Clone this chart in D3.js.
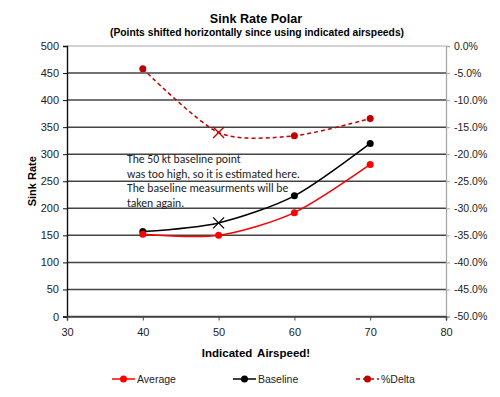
<!DOCTYPE html>
<html><head><meta charset="utf-8">
<script src="https://cdn.jsdelivr.net/npm/d3@7"></script>
<style>body{margin:0;background:#fff}svg{display:block}</style>
</head><body>
<script>
const speeds = [40, 50, 60, 70];
const average = [152, 150, 192, 281];
const baseline = [157, 173, 223, 320];
const pctDelta = [-4.2, -16.0, -16.6, -13.4];
const estimatedIndex = 1; // 50 kt point drawn as X for Baseline & %Delta
const leftTicks = [0, 50, 100, 150, 200, 250, 300, 350, 400, 450, 500];
const rightTicks = [0, -5, -10, -15, -20, -25, -30, -35, -40, -45, -50];
const xTicks = [30, 40, 50, 60, 70, 80];
const noteLines = ["The 50 kt baseline point", "was too high, so it is estimated here.", "The baseline measurments will be", "taken again."];

const W = 500, H = 397;
const svg = d3.select("body").append("svg").attr("width", W).attr("height", H);
const x = d3.scaleLinear().domain([30, 80]).range([67, 446]);
const y = d3.scaleLinear().domain([0, 500]).range([316.5, 46]);
const y2 = d3.scaleLinear().domain([-50, 0]).range([316.5, 46]);
const font = "Liberation Sans, Arial, sans-serif";

// gridlines
svg.append("g").selectAll("line").data(leftTicks).join("line")
  .attr("x1", x(30)).attr("x2", x(80))
  .attr("y1", d => y(d)).attr("y2", d => y(d))
  .attr("stroke", d => d === 500 ? "#a6a6a6" : "#444").attr("stroke-width", d => d === 500 ? 1 : 1.5);

// left axis
const ga = svg.append("g").attr("transform", `translate(${x(30)},0)`)
  .call(d3.axisLeft(y).tickValues(leftTicks).tickSize(4).tickPadding(4));
ga.select(".domain").attr("stroke", "#111").attr("stroke-width", 1.4);
ga.selectAll(".tick line").attr("stroke", "#111");
ga.selectAll("text").attr("font-family", font).attr("font-size", 11).attr("fill", "#222");

// right axis
const gr = svg.append("g").attr("transform", `translate(${x(80)},0)`)
  .call(d3.axisRight(y2).tickValues(rightTicks).tickSize(4).tickPadding(4).tickFormat(d => d.toFixed(1) + "%"));
gr.select(".domain").attr("stroke", "#a6a6a6").attr("stroke-width", 1.3);
gr.selectAll(".tick line").attr("stroke", "#a6a6a6");
gr.selectAll("text").attr("font-family", font).attr("font-size", 10.5).attr("fill", "#222");

// bottom axis
const gb = svg.append("g").attr("transform", `translate(0,${y(0)})`)
  .call(d3.axisBottom(x).tickValues(xTicks).tickSize(4).tickPadding(8));
gb.select(".domain").attr("stroke", "#444").attr("stroke-width", 1.5);
gb.selectAll(".tick line").attr("stroke", "#444");
gb.selectAll("text").attr("font-family", font).attr("font-size", 11).attr("fill", "#222");

// titles
svg.append("text").attr("x", 256).attr("y", 23).attr("text-anchor", "middle")
  .attr("font-family", font).attr("font-weight", "bold").attr("font-size", 12.6).text("Sink Rate Polar");
svg.append("text").attr("x", 257).attr("y", 36).attr("text-anchor", "middle")
  .attr("font-family", font).attr("font-weight", "bold").attr("font-size", 10.3).text("(Points shifted horizontally since using indicated airspeeds)");
svg.append("text").attr("transform", `translate(36,${y(250)}) rotate(-90)`).attr("text-anchor", "middle")
  .attr("font-family", font).attr("font-weight", "bold").attr("font-size", 11).text("Sink Rate");
svg.append("text").attr("x", 256).attr("y", 357).attr("text-anchor", "middle")
  .attr("font-family", font).attr("font-weight", "bold").attr("font-size", 11.5).attr("word-spacing", 2).text("Indicated Airspeed!");

// note
svg.append("g").selectAll("text").data(noteLines).join("text")
  .attr("x", 127).attr("y", (d, i) => 163 + i * 14.6)
  .attr("font-family", "Carlito, Lato, sans-serif").attr("font-size", 11.7).attr("fill", "#222").text(d => d);

const curve = d3.curveCardinal.tension(0.2);
function series(vals, ys, color, dash, xIdx) {
  const pts = speeds.map((s, i) => [x(s), ys(vals[i])]);
  svg.append("path").attr("d", d3.line().curve(curve)(pts)).attr("fill", "none")
    .attr("stroke", color).attr("stroke-width", 1.5).attr("stroke-dasharray", dash);
  pts.forEach((p, i) => {
    if (i === xIdx) {
      const s = 5.5;
      svg.append("path").attr("d", `M${p[0]-s},${p[1]-s}L${p[0]+s},${p[1]+s}M${p[0]-s},${p[1]+s}L${p[0]+s},${p[1]-s}`)
        .attr("stroke", color).attr("stroke-width", 1.3);
    } else {
      svg.append("circle").attr("cx", p[0]).attr("cy", p[1]).attr("r", 3.5).attr("fill", color);
    }
  });
}
series(pctDelta, y2, "#c00000", "4,3", estimatedIndex);
series(baseline, y, "#000000", null, estimatedIndex);
series(average, y, "#ff0000", null, -1);

// legend
const legend = [
  {name: "Average", color: "#ff0000", dash: null, x0: 112},
  {name: "Baseline", color: "#000000", dash: null, x0: 233},
  {name: "%Delta", color: "#c00000", dash: "4,3", x0: 356}
];
const lg = svg.append("g").selectAll("g").data(legend).join("g");
lg.append("line").attr("x1", d => d.x0).attr("x2", d => d.x0 + 23).attr("y1", 379).attr("y2", 379)
  .attr("stroke", d => d.color).attr("stroke-width", 1.5).attr("stroke-dasharray", d => d.dash);
lg.append("circle").attr("cx", d => d.x0 + 11.5).attr("cy", 379).attr("r", 3.5).attr("fill", d => d.color);
lg.append("text").attr("x", d => d.x0 + 25).attr("y", 383).attr("font-family", font).attr("font-size", 10.5)
  .attr("fill", "#222").text(d => d.name);
</script>
</body></html>
